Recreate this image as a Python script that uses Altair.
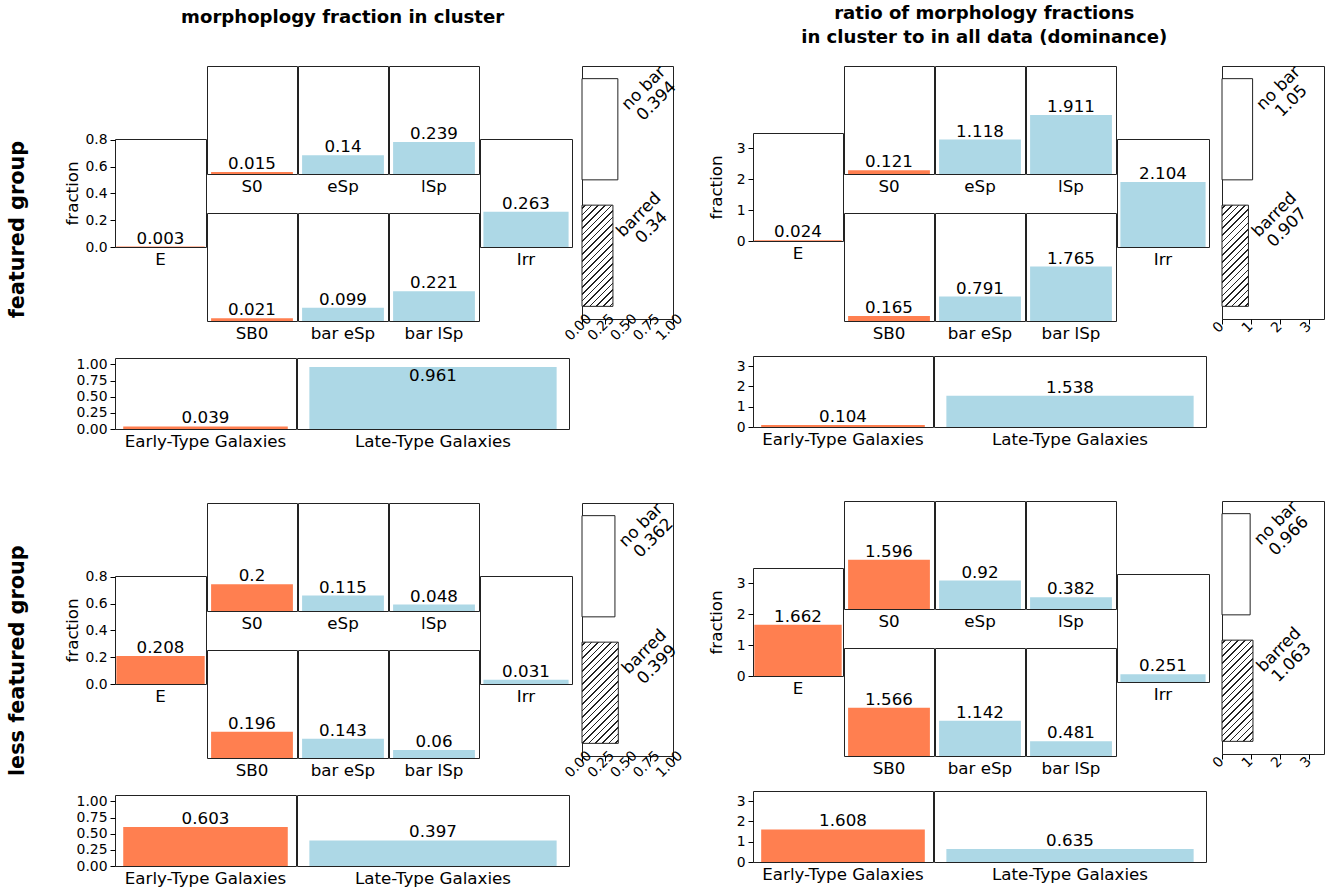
import altair as alt
import pandas as pd

# ---------------- data ----------------
morph_types = ["E", "S0", "eSp", "lSp", "SB0", "bar eSp", "bar lSp", "Irr"]
early_names = ["E", "S0", "SB0", "Early-Type Galaxies"]

frac_featured = [0.003, 0.015, 0.14, 0.239, 0.021, 0.099, 0.221, 0.263]
frac_less = [0.208, 0.2, 0.115, 0.048, 0.196, 0.143, 0.06, 0.031]
dom_featured = [0.024, 0.121, 1.118, 1.911, 0.165, 0.791, 1.765, 2.104]
dom_less = [1.662, 1.596, 0.92, 0.382, 1.566, 1.142, 0.481, 0.251]

bar_kinds = ["no bar", "barred"]
bar_frac_featured = [0.394, 0.34]
bar_frac_less = [0.362, 0.399]
bar_dom_featured = [1.05, 0.907]
bar_dom_less = [0.966, 1.063]

broad_types = ["Early-Type Galaxies", "Late-Type Galaxies"]
broad_frac_featured = [0.039, 0.961]
broad_frac_less = [0.603, 0.397]
broad_dom_featured = [0.104, 1.538]
broad_dom_less = [1.608, 0.635]

col_titles = [["morphoplogy fraction in cluster"],
              ["ratio of morphology fractions", "in cluster to in all data (dominance)"]]
row_titles = ["featured group", "less featured group"]

# ---------------- style / layout ----------------
FS_LABEL = 16.7
FS_TICK = 13.9
FS_TITLE = 18.1
FS_ROW = 20.8
EARLY_C = "#FF7F50"
LATE_C = "#ADD8E6"
EDGE = "#222222"
PH = 108          # panel height
GAP = 37          # gap between grid rows
BAR_H = 2 * PH + GAP
BOT_H = 71
TOUCH = -2        # spacing that makes neighbouring frames share their border

modes = {
    "fraction": dict(ymax=0.805, yticks=[0, 0.2, 0.4, 0.6, 0.8], yfmt=".1f",
                     bot_ymax=1.1, bot_ticks=[0, 0.25, 0.5, 0.75, 1.0], bot_fmt=".2f",
                     bar_xmax=1.0, bar_ticks=[0, 0.25, 0.5, 0.75, 1.0], bar_fmt=".2f",
                     ext=31, e_w=91, g_w=90, i_w=92, bar_w=91, sp_bar=-12,
                     title_offset=36, title_dx=-32),
    "dominance": dict(ymax=3.5, yticks=[0, 1, 2, 3], yfmt="d",
                      bot_ymax=3.5, bot_ticks=[0, 1, 2, 3], bot_fmt="d",
                      bar_xmax=3.5, bar_ticks=[0, 1, 2, 3], bar_fmt="d",
                      ext=25, e_w=90, g_w=90, i_w=92, bar_w=102, sp_bar=-1,
                      title_offset=16, title_dx=-32),
}

SPC_E = 65
SPC_I = 71
SP_GRID = 16
SP_BOTTOM = 12
SP_COL = 49
SP_H = 22


def spacer(w, h):
    df = pd.DataFrame({"s": [0.0]})
    return (alt.Chart(df).mark_point(size=0, opacity=0)
            .encode(x=alt.X("s:Q", axis=None, scale=alt.Scale(domain=[-1, 1])),
                    y=alt.Y("s:Q", axis=None, scale=alt.Scale(domain=[-1, 1])))
            .properties(width=w, height=h, view=alt.ViewBackground(stroke="transparent")))


def left_axis(values, fmt, ext, title=None):
    kw = dict(values=values, format=fmt, tickSize=5, labelPadding=3,
              labelFontSize=FS_TICK, minExtent=ext, maxExtent=ext,
              grid=False, domain=False, labelOverlap=False)
    if title:
        kw.update(title=title, titleFontSize=FS_LABEL, titleFontWeight="normal",
                  titlePadding=2.5)
    else:
        kw.update(title=None)
    return alt.Axis(**kw)


def value_panel(name, value, ymax, w, h, yaxis=None, pad_outer=0.05, cap=0.64):
    df = pd.DataFrame({"type": [name], "value": [value], "label": [str(value)]})
    color = EARLY_C if name in early_names else LATE_C
    x = alt.X("type:N", scale=alt.Scale(paddingInner=0, paddingOuter=pad_outer),
              axis=alt.Axis(title=None, ticks=False, tickSize=0, domain=False,
                            labelAngle=0, labelFontSize=FS_LABEL, labelPadding=4))
    ysc = alt.Scale(domain=[0, ymax], nice=False, zero=True)
    base = alt.Chart(df).transform_calculate(
        ly=f"min(datum.value, {cap * ymax})").encode(x=x)
    bars = base.mark_bar(color=color).encode(
        y=alt.Y("value:Q", scale=ysc, axis=yaxis))
    text = base.mark_text(baseline="alphabetic", dy=-3, fontSize=FS_LABEL,
                          color="black").encode(
        y=alt.Y("ly:Q", scale=ysc, axis=yaxis), text="label:N")
    return alt.layer(bars, text).properties(width=w, height=h)


def hatch_gradient(wpx, hpx, spacing=4.6, lw=1.1):
    length = (wpx + hpx) / 2 ** 0.5
    n = max(1, int(length / spacing))
    t = (1 / hpx + 1 / wpx) / (1 / hpx ** 2 + 1 / wpx ** 2)
    hw = lw / 2 / length
    stops = [alt.GradientStop(offset=0, color="white")]
    for i in range(n):
        c = (i + 0.5) / n
        stops += [alt.GradientStop(offset=c - hw, color="white"),
                  alt.GradientStop(offset=c - hw, color="#222222"),
                  alt.GradientStop(offset=c + hw, color="#222222"),
                  alt.GradientStop(offset=c + hw, color="white")]
    stops.append(alt.GradientStop(offset=1, color="white"))
    return alt.LinearGradient(gradient="linear", stops=stops,
                              x1=0, y1=0, x2=t / hpx, y2=t / wpx)


def bar_panel(vals, m):
    w, h, xmax = m["bar_w"], BAR_H, m["bar_xmax"]
    df = pd.DataFrame({"kind": bar_kinds, "value": vals,
                       "label": [f"{k}\n{v}" for k, v in zip(bar_kinds, vals)]})
    y = alt.Y("kind:N", scale=alt.Scale(domain=bar_kinds, paddingInner=0.2,
                                         paddingOuter=0.1), axis=None)
    x = alt.X("value:Q", scale=alt.Scale(domain=[0, xmax], nice=False),
              axis=alt.Axis(values=m["bar_ticks"], format=m["bar_fmt"], title=None,
                            labelAngle=315, labelAlign="center", labelBaseline="middle",
                            tickSize=5, labelPadding=3, labelOffset=-4,
                            labelOverlap=False, labelFontSize=FS_TICK,
                            grid=False, domain=False))
    base = alt.Chart(df).encode(x=x, y=y)
    nobar = base.transform_filter(alt.datum.kind == "no bar").mark_bar(
        fill="white", stroke=EDGE, strokeWidth=1)
    grad = hatch_gradient(vals[1] / xmax * w, 0.4 * h)
    barred = base.transform_filter(alt.datum.kind == "barred").mark_bar(
        fill=grad, stroke=EDGE, strokeWidth=1)
    text = base.mark_text(angle=315, align="center", baseline="middle",
                          lineBreak="\n", lineHeight=18, fontSize=FS_LABEL,
                          xOffset=26, yOffset=-41, color="black").encode(text="label:N")
    return alt.layer(nobar, barred, text).properties(width=w, height=h)


def block(vals, bar_vals, broad_vals, mode, col_title=None, row_title=None, row_dx=0):
    m = modes[mode]
    v = dict(zip(morph_types, vals))
    ymax = m["ymax"]
    e_axis = left_axis(m["yticks"], m["yfmt"], m["ext"], title="fraction")
    E = value_panel("E", v["E"], ymax, m["e_w"], PH, yaxis=e_axis, pad_outer=0.015)
    Irr = value_panel("Irr", v["Irr"], ymax, m["i_w"], PH, pad_outer=0.04)
    top = alt.hconcat(*[value_panel(n, v[n], ymax, m["g_w"], PH) for n in ["S0", "eSp", "lSp"]],
                      spacing=TOUCH)
    bot = alt.hconcat(*[value_panel(n, v[n], ymax, m["g_w"], PH) for n in ["SB0", "bar eSp", "bar lSp"]],
                      spacing=TOUCH)
    grid = alt.vconcat(top, bot, spacing=SP_GRID)
    e_col = alt.vconcat(spacer(m["e_w"], SPC_E), E, spacing=0)
    i_col = alt.vconcat(spacer(m["i_w"], SPC_I), Irr, spacing=0)
    main = alt.hconcat(e_col, grid, i_col, spacing=TOUCH)
    row = alt.hconcat(main, bar_panel(bar_vals, m), spacing=m["sp_bar"])
    if col_title:
        row = row.properties(title=alt.TitleParams(
            text=col_title, anchor="middle", fontSize=FS_TITLE, fontWeight="bold",
            color="black", offset=m["title_offset"], lineHeight=24, dx=m["title_dx"]))
    b_axis = left_axis(m["bot_ticks"], m["bot_fmt"], m["ext"])
    early = value_panel(broad_types[0], broad_vals[0], m["bot_ymax"],
                        m["e_w"] + m["g_w"], BOT_H, yaxis=b_axis)
    late = value_panel(broad_types[1], broad_vals[1], m["bot_ymax"],
                       2 * m["g_w"] + m["i_w"], BOT_H)
    bottom = alt.hconcat(early, late, spacing=TOUCH)
    blk = alt.vconcat(row, bottom, spacing=SP_BOTTOM)
    if row_title:
        blk = blk.properties(title=alt.TitleParams(
            text=row_title, orient="left", anchor="middle", fontSize=FS_ROW,
            fontWeight="bold", color="black", offset=35, dx=row_dx))
    return blk


left_col = alt.vconcat(
    block(frac_featured, bar_frac_featured, broad_frac_featured, "fraction",
          col_title=col_titles[0], row_title=row_titles[0]),
    block(frac_less, bar_frac_less, broad_frac_less, "fraction",
          row_title=row_titles[1], row_dx=33),
    spacing=SP_COL)
right_col = alt.vconcat(
    block(dom_featured, bar_dom_featured, broad_dom_featured, "dominance",
          col_title=col_titles[1]),
    block(dom_less, bar_dom_less, broad_dom_less, "dominance"),
    spacing=SP_COL)

chart = (alt.hconcat(left_col, right_col, spacing=SP_H)
         .properties(padding={"left": 7, "top": 4, "right": 5, "bottom": 3})
         .configure(font="DejaVu Sans")
         .configure_view(stroke=EDGE, strokeWidth=1)
         .configure_axis(labelColor="black", tickColor="black", titleColor="black",
                         tickWidth=1, grid=False, domain=False))

chart.save("out.html", embed_options={"renderer": "svg", "actions": False})
